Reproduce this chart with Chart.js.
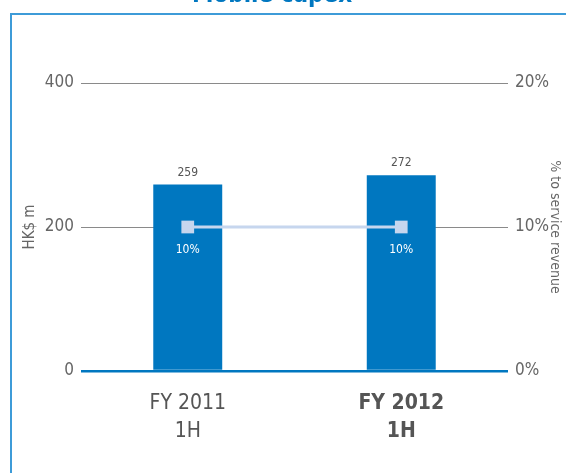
<!DOCTYPE html>
<html>
<head>
<meta charset="utf-8">
<script src="https://cdn.jsdelivr.net/npm/chart.js@4"></script>
<style>
  html, body { margin: 0; padding: 0; background: #fff; }
  #wrap { position: relative; width: 566px; height: 473px; }
</style>
</head>
<body>
<div id="wrap"><canvas id="capex" width="566" height="473"></canvas></div>
<script>
const FONT = '"Liberation Sans Narrow", "DejaVu Sans Condensed", "Liberation Sans", sans-serif';

const categories = [['FY 2011', '1H'], ['FY 2012', '1H']];
const capexValues = [259, 272];
const revenuePct = [10, 10];
const leftTicks = [0, 200, 400];
const rightTicks = [0, 10, 20];
const chartTitle = 'Mobile capex';

const BLUE = '#0077c0';
const LINE_BLUE = '#c6d6ee';

// frame + cut-off title + value labels
const decorPlugin = {
  id: 'decor',
  beforeDraw(chart) {
    const ctx = chart.ctx;
    ctx.save();
    ctx.strokeStyle = '#3d9bd8';
    ctx.lineWidth = 2;
    ctx.beginPath();
    ctx.moveTo(11, 473);
    ctx.lineTo(11, 14);
    ctx.lineTo(566, 14);
    ctx.stroke();
    ctx.fillStyle = BLUE;
    ctx.font = 'bold 24px ' + FONT;
    ctx.textAlign = 'center';
    ctx.textBaseline = 'alphabetic';
    ctx.fillText(chartTitle, 272, 2);
    ctx.restore();
  },
  afterDatasetsDraw(chart) {
    const ctx = chart.ctx;
    ctx.save();
    ctx.textAlign = 'center';
    ctx.textBaseline = 'middle';
    ctx.font = '12px ' + FONT;
    // dataset 1 = bars, dataset 0 = line
    chart.getDatasetMeta(1).data.forEach((bar, i) => {
      ctx.fillStyle = '#555';
      ctx.fillText(String(capexValues[i]), bar.x, bar.y - 12);
    });
    chart.getDatasetMeta(0).data.forEach((pt, i) => {
      ctx.fillStyle = '#fff';
      ctx.fillText(revenuePct[i] + '%', pt.x, pt.y + 23);
    });
    ctx.restore();
  }
};

new Chart(document.getElementById('capex'), {
  data: {
    labels: categories,
    datasets: [
      {
        type: 'line',
        label: '% to service revenue',
        data: revenuePct,
        yAxisID: 'y1',
        borderColor: LINE_BLUE,
        borderWidth: 3,
        pointStyle: 'rect',
        pointRadius: 9,
        pointBorderWidth: 0,
        pointBackgroundColor: LINE_BLUE,
        order: 0
      },
      {
        type: 'bar',
        label: 'Mobile capex',
        data: capexValues,
        yAxisID: 'y',
        backgroundColor: BLUE,
        barPercentage: 0.323,
        categoryPercentage: 1,
        order: 1
      }
    ]
  },
  options: {
    responsive: false,
    animation: false,
    layout: { padding: { top: 83, right: 0, bottom: 0, left: 0 } },
    plugins: {
      legend: { display: false },
      tooltip: { enabled: false }
    },
    scales: {
      x: {
        grid: { display: false },
        border: { display: false },
        afterFit: (s) => { s.height = 102; },
        ticks: {
          padding: 10,
          color: '#555',
          font: (c) => ({
            family: FONT,
            size: 21,
            lineHeight: 1.35,
            weight: c.index === 1 ? 'bold' : 'normal'
          })
        }
      },
      y: {
        position: 'left',
        min: 0,
        max: 400,
        afterFit: (s) => { s.width = 81; },
        afterBuildTicks: (s) => { s.ticks = leftTicks.map(v => ({ value: v })); },
        border: { display: false },
        grid: {
          drawTicks: false,
          color: (c) => c.tick && c.tick.value === 0 ? BLUE : '#8a8a8a',
          lineWidth: (c) => c.tick && c.tick.value === 0 ? 2.5 : 1
        },
        ticks: { padding: 7, color: '#666', font: { family: FONT, size: 17 } },
        title: {
          display: true,
          text: 'HK$ m',
          color: '#666',
          font: { family: FONT, size: 15 },
          padding: { top: 21, bottom: 0 }
        }
      },
      y1: {
        position: 'right',
        min: 0,
        max: 20,
        afterFit: (s) => { s.width = 58; },
        afterBuildTicks: (s) => { s.ticks = rightTicks.map(v => ({ value: v })); },
        border: { display: false },
        grid: { display: false, drawTicks: false },
        ticks: {
          padding: 7,
          color: '#666',
          font: { family: FONT, size: 17 },
          callback: (v) => v + '%'
        },
        title: {
          display: true,
          text: '% to service revenue',
          color: '#666',
          font: { family: FONT, size: 14 },
          padding: { top: 3, bottom: 0 }
        }
      }
    }
  },
  plugins: [decorPlugin]
});
</script>
</body>
</html>
